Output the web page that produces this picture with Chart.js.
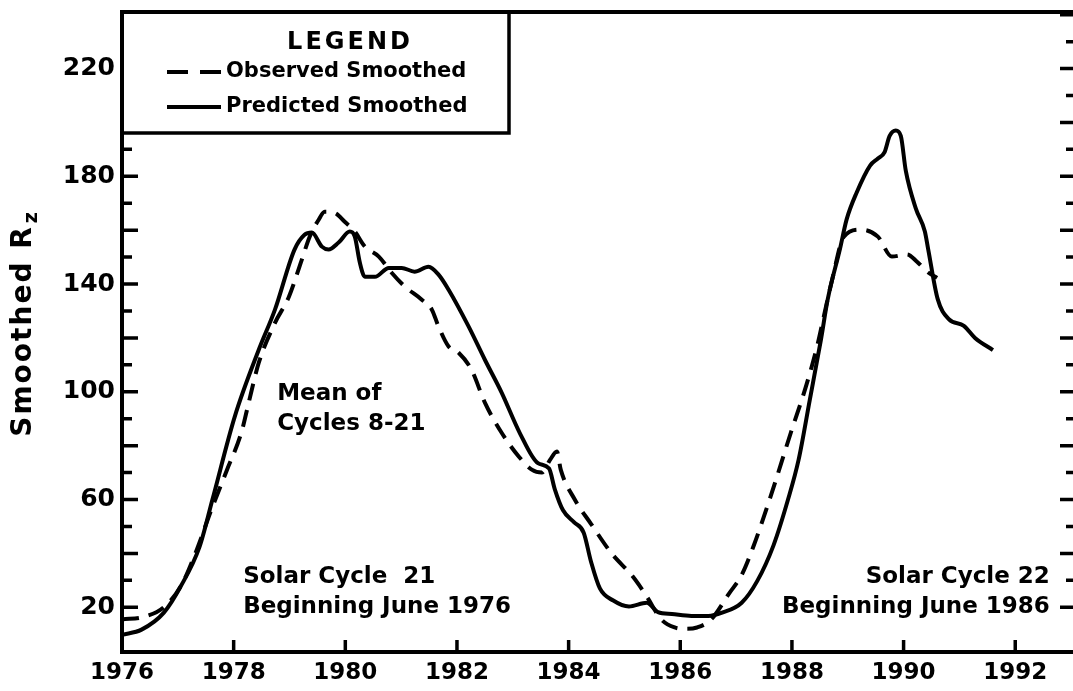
<!DOCTYPE html>
<html>
<head>
<meta charset="utf-8">
<script src="https://cdn.jsdelivr.net/npm/chart.js@4.4.1/dist/chart.umd.min.js"></script>
<style>
  html, body { margin: 0; padding: 0; background: #fff; overflow: hidden; }
  #wrap { position: relative; width: 1090px; height: 691px; }
</style>
</head>
<body>
<div id="wrap"><canvas id="chart"></canvas></div>
<script>
// tick values
const yearTicks = [1976, 1978, 1980, 1982, 1984, 1986, 1988, 1990, 1992];
const valueTicks = [20, 30, 40, 50, 60, 70, 80, 90, 100, 110, 120, 130, 140, 150, 160, 170, 180, 190, 200, 210, 220, 230, 240];
const labelledValues = [20, 60, 100, 140, 180, 220];

// predicted smoothed (solid)
const predictedYears = [1976.00, 1976.35, 1976.75, 1977.05, 1977.39, 1977.62, 1978.02, 1978.45, 1978.74, 1979.09,
  1979.27, 1979.40, 1979.58, 1979.70, 1979.88, 1980.08, 1980.17, 1980.26, 1980.35, 1980.53,
  1980.78, 1981.01, 1981.24, 1981.49, 1981.67, 1981.85, 1982.21, 1982.50, 1982.80, 1983.13,
  1983.45, 1983.65, 1983.75, 1983.90, 1984.10, 1984.27, 1984.40, 1984.56, 1984.80, 1985.08,
  1985.40, 1985.60, 1985.85, 1986.20, 1986.50, 1986.75, 1987.10, 1987.38, 1987.67, 1987.93,
  1988.12, 1988.32, 1988.52, 1988.64, 1988.86, 1988.98, 1989.16, 1989.40, 1989.54, 1989.66,
  1989.75, 1989.86, 1989.95, 1990.04, 1990.22, 1990.38, 1990.44, 1990.61, 1990.81, 1991.08,
  1991.28, 1991.60];
const predictedValues = [9.8, 11.7, 18.0, 27.7, 42.5, 60.0, 90.8, 115.6, 130.5, 152.8,
  158.3, 159.1, 153.9, 152.8, 155.4, 159.5, 157.6, 148.0, 142.7, 142.7,
  146.0, 146.0, 144.6, 146.4, 143.5, 137.9, 124.2, 111.9, 99.7, 84.5,
  73.5, 71.5, 64.0, 56.0, 51.5, 47.7, 37.0, 27.0, 22.5, 20.3,
  21.7, 18.2, 17.5, 16.8, 16.8, 18.0, 21.7, 29.8, 43.0, 60.0,
  74.8, 97.0, 119.4, 134.2, 153.0, 164.0, 174.0, 184.0, 186.6, 189.0,
  195.0, 197.0, 195.0, 182.0, 168.0, 159.6, 153.0, 134.5, 127.0, 124.5,
  120.0, 115.5];

// observed smoothed (dashed)
const observedYears = [1976.00, 1976.40, 1976.75, 1977.07, 1977.34, 1977.60, 1977.88, 1978.14, 1978.27, 1978.45,
  1978.74, 1978.99, 1979.22, 1979.36, 1979.52, 1979.63, 1979.81, 1979.99, 1980.17, 1980.35,
  1980.60, 1980.83, 1981.07, 1981.37, 1981.55, 1981.67, 1981.85, 1982.03, 1982.26, 1982.50,
  1982.80, 1983.11, 1983.34, 1983.52, 1983.67, 1983.79, 1983.86, 1984.11, 1984.40, 1984.77,
  1985.15, 1985.40, 1985.66, 1985.90, 1986.10, 1986.30, 1986.55, 1986.87, 1987.10, 1987.30,
  1987.60, 1987.98, 1988.25, 1988.45, 1988.57, 1988.72, 1988.93, 1989.23, 1989.54, 1989.79,
  1990.06, 1990.24, 1990.42, 1990.60];
const observedValues = [15.5, 16.5, 20.0, 28.4, 41.4, 56.2, 71.0, 85.0, 96.0, 110.8,
  125.6, 135.3, 149.0, 157.5, 163.8, 166.8, 166.4, 163.1, 159.5, 153.9,
  150.2, 144.2, 139.0, 134.2, 130.5, 124.2, 116.8, 114.5, 108.2, 96.0,
  84.8, 75.9, 71.1, 70.0, 74.8, 77.8, 71.0, 60.0, 51.0, 40.0,
  31.4, 24.0, 15.5, 12.5, 12.0, 12.5, 15.4, 25.0, 32.0, 42.0,
  60.0, 84.8, 101.9, 116.8, 127.9, 141.6, 157.6, 160.2, 157.6, 150.2,
  151.0, 148.3, 144.6, 142.3];

// text notes, anchored in data units
const notes = [
  { lines: ['Mean of', 'Cycles 8-21'], x: 1978.78, y: 99.0, align: 'left' },
  { lines: ['Solar Cycle  21', 'Beginning June 1976'], x: 1978.17, y: 31.4, align: 'left' },
  { lines: ['Solar Cycle 22', 'Beginning June 1986'], x: 1992.62, y: 31.4, align: 'right' }
];

const FONT = '"DejaVu Sans", sans-serif';

function toPoints(xs, ys) {
  return xs.map((x, i) => ({ x: x, y: ys[i] }));
}

const frame = {
  id: 'frame',
  afterDatasetsDraw(chart) {
    const ctx = chart.ctx;
    const a = chart.chartArea;
    const xs = chart.scales.x;
    const ys = chart.scales.y;
    ctx.save();
    ctx.strokeStyle = '#000';
    ctx.lineCap = 'butt';

    // top spine
    ctx.lineWidth = 4;
    ctx.beginPath();
    ctx.moveTo(a.left - 2, a.top);
    ctx.lineTo(a.right, a.top);
    ctx.stroke();

    // inward ticks, left and right
    valueTicks.forEach(v => {
      const y = ys.getPixelForValue(v);
      const len = v % 20 === 0 ? 16 : 10;
      ctx.lineWidth = 3.5;
      ctx.beginPath();
      ctx.moveTo(a.left, y);
      ctx.lineTo(a.left + len, y);
      ctx.moveTo(a.right, y);
      ctx.lineTo(a.right - len - 4, y);
      ctx.stroke();
    });
    // inward ticks, bottom
    yearTicks.forEach(v => {
      const x = xs.getPixelForValue(v);
      ctx.lineWidth = 3.5;
      ctx.beginPath();
      ctx.moveTo(x, a.bottom);
      ctx.lineTo(x, a.bottom - 12);
      ctx.stroke();
    });

    // legend box
    const bx = a.left, by = a.top, bw = 509 - a.left, bh = 133 - a.top;
    ctx.fillStyle = '#fff';
    ctx.fillRect(bx + 2, by + 2, bw - 2, bh - 2);
    ctx.lineWidth = 3.5;
    ctx.strokeRect(bx, by, bw, bh);
    ctx.fillStyle = '#000';
    ctx.font = 'bold 24px ' + FONT;
    ctx.letterSpacing = '3px';
    ctx.textAlign = 'center';
    ctx.textBaseline = 'middle';
    ctx.fillText('LEGEND', 350, 43);
    ctx.letterSpacing = '0px';
    ctx.font = 'bold 21px ' + FONT;
    ctx.textAlign = 'left';
    chart.data.datasets.forEach((ds, i) => {
      const rowY = 72 + i * 35;
      ctx.lineWidth = 4;
      ctx.setLineDash(ds.borderDash ? [21, 12] : []);
      ctx.beginPath();
      ctx.moveTo(167, rowY);
      ctx.lineTo(221, rowY);
      ctx.stroke();
      ctx.setLineDash([]);
      ctx.fillText(ds.label, 226, rowY);
    });

    // notes
    ctx.font = 'bold 23px ' + FONT;
    notes.forEach(n => {
      const x = xs.getPixelForValue(n.x);
      const y = ys.getPixelForValue(n.y);
      ctx.textAlign = n.align;
      n.lines.forEach((t, j) => ctx.fillText(t, x, y + j * 30));
    });

    // y title with subscript
    ctx.save();
    ctx.translate(24, 323);
    ctx.rotate(-Math.PI / 2);
    ctx.font = 'bold 28px ' + FONT;
    ctx.letterSpacing = '2px';
    const main = 'Smoothed R';
    const w = ctx.measureText(main).width;
    ctx.textAlign = 'left';
    ctx.fillText(main, -w / 2 - 8, 0);
    ctx.font = 'bold 19px ' + FONT;
    ctx.fillText('z', w / 2 - 6, 8);
    ctx.restore();

    ctx.restore();
  }
};

new Chart(document.getElementById('chart'), {
  type: 'line',
  data: {
    datasets: [
      {
        label: 'Observed Smoothed',
        data: toPoints(observedYears, observedValues),
        borderColor: '#000',
        borderWidth: 4,
        borderDash: [17, 10],
        pointRadius: 0,
        fill: false,
        cubicInterpolationMode: 'monotone'
      },
      {
        label: 'Predicted Smoothed',
        data: toPoints(predictedYears, predictedValues),
        borderColor: '#000',
        borderWidth: 4,
        pointRadius: 0,
        fill: false,
        cubicInterpolationMode: 'monotone'
      }
    ]
  },
  options: {
    responsive: true,
    maintainAspectRatio: false,
    animation: false,
    devicePixelRatio: 1,
    layout: { padding: { top: 12, right: 10, left: 0, bottom: 0 } },
    plugins: {
      legend: { display: false },
      tooltip: { enabled: false }
    },
    scales: {
      x: {
        type: 'linear',
        min: 1976,
        max: 1993.16,
        afterBuildTicks: s => { s.ticks = yearTicks.map(v => ({ value: v })); },
        afterFit: s => { s.height = 39; s.paddingLeft = 0; s.paddingRight = 0; },
        ticks: {
          color: '#000',
          font: { family: FONT, size: 23, weight: 'bold' },
          padding: 7,
          maxRotation: 0,
          autoSkip: false,
          callback: v => String(v)
        },
        grid: { display: false, drawTicks: false },
        border: { display: true, color: '#000', width: 4 }
      },
      y: {
        type: 'linear',
        min: 3.4,
        max: 241,
        afterBuildTicks: s => { s.ticks = valueTicks.map(v => ({ value: v })); },
        afterFit: s => { s.width = 122; s.paddingTop = 0; s.paddingBottom = 0; },
        ticks: {
          color: '#000',
          font: { family: FONT, size: 25, weight: 'bold' },
          padding: 7,
          autoSkip: false,
          callback: v => labelledValues.includes(v) ? String(v) : ''
        },
        grid: { display: false, drawTicks: false },
        border: { display: true, color: '#000', width: 4 }
      }
    }
  },
  plugins: [frame]
});
</script>
</body>
</html>
